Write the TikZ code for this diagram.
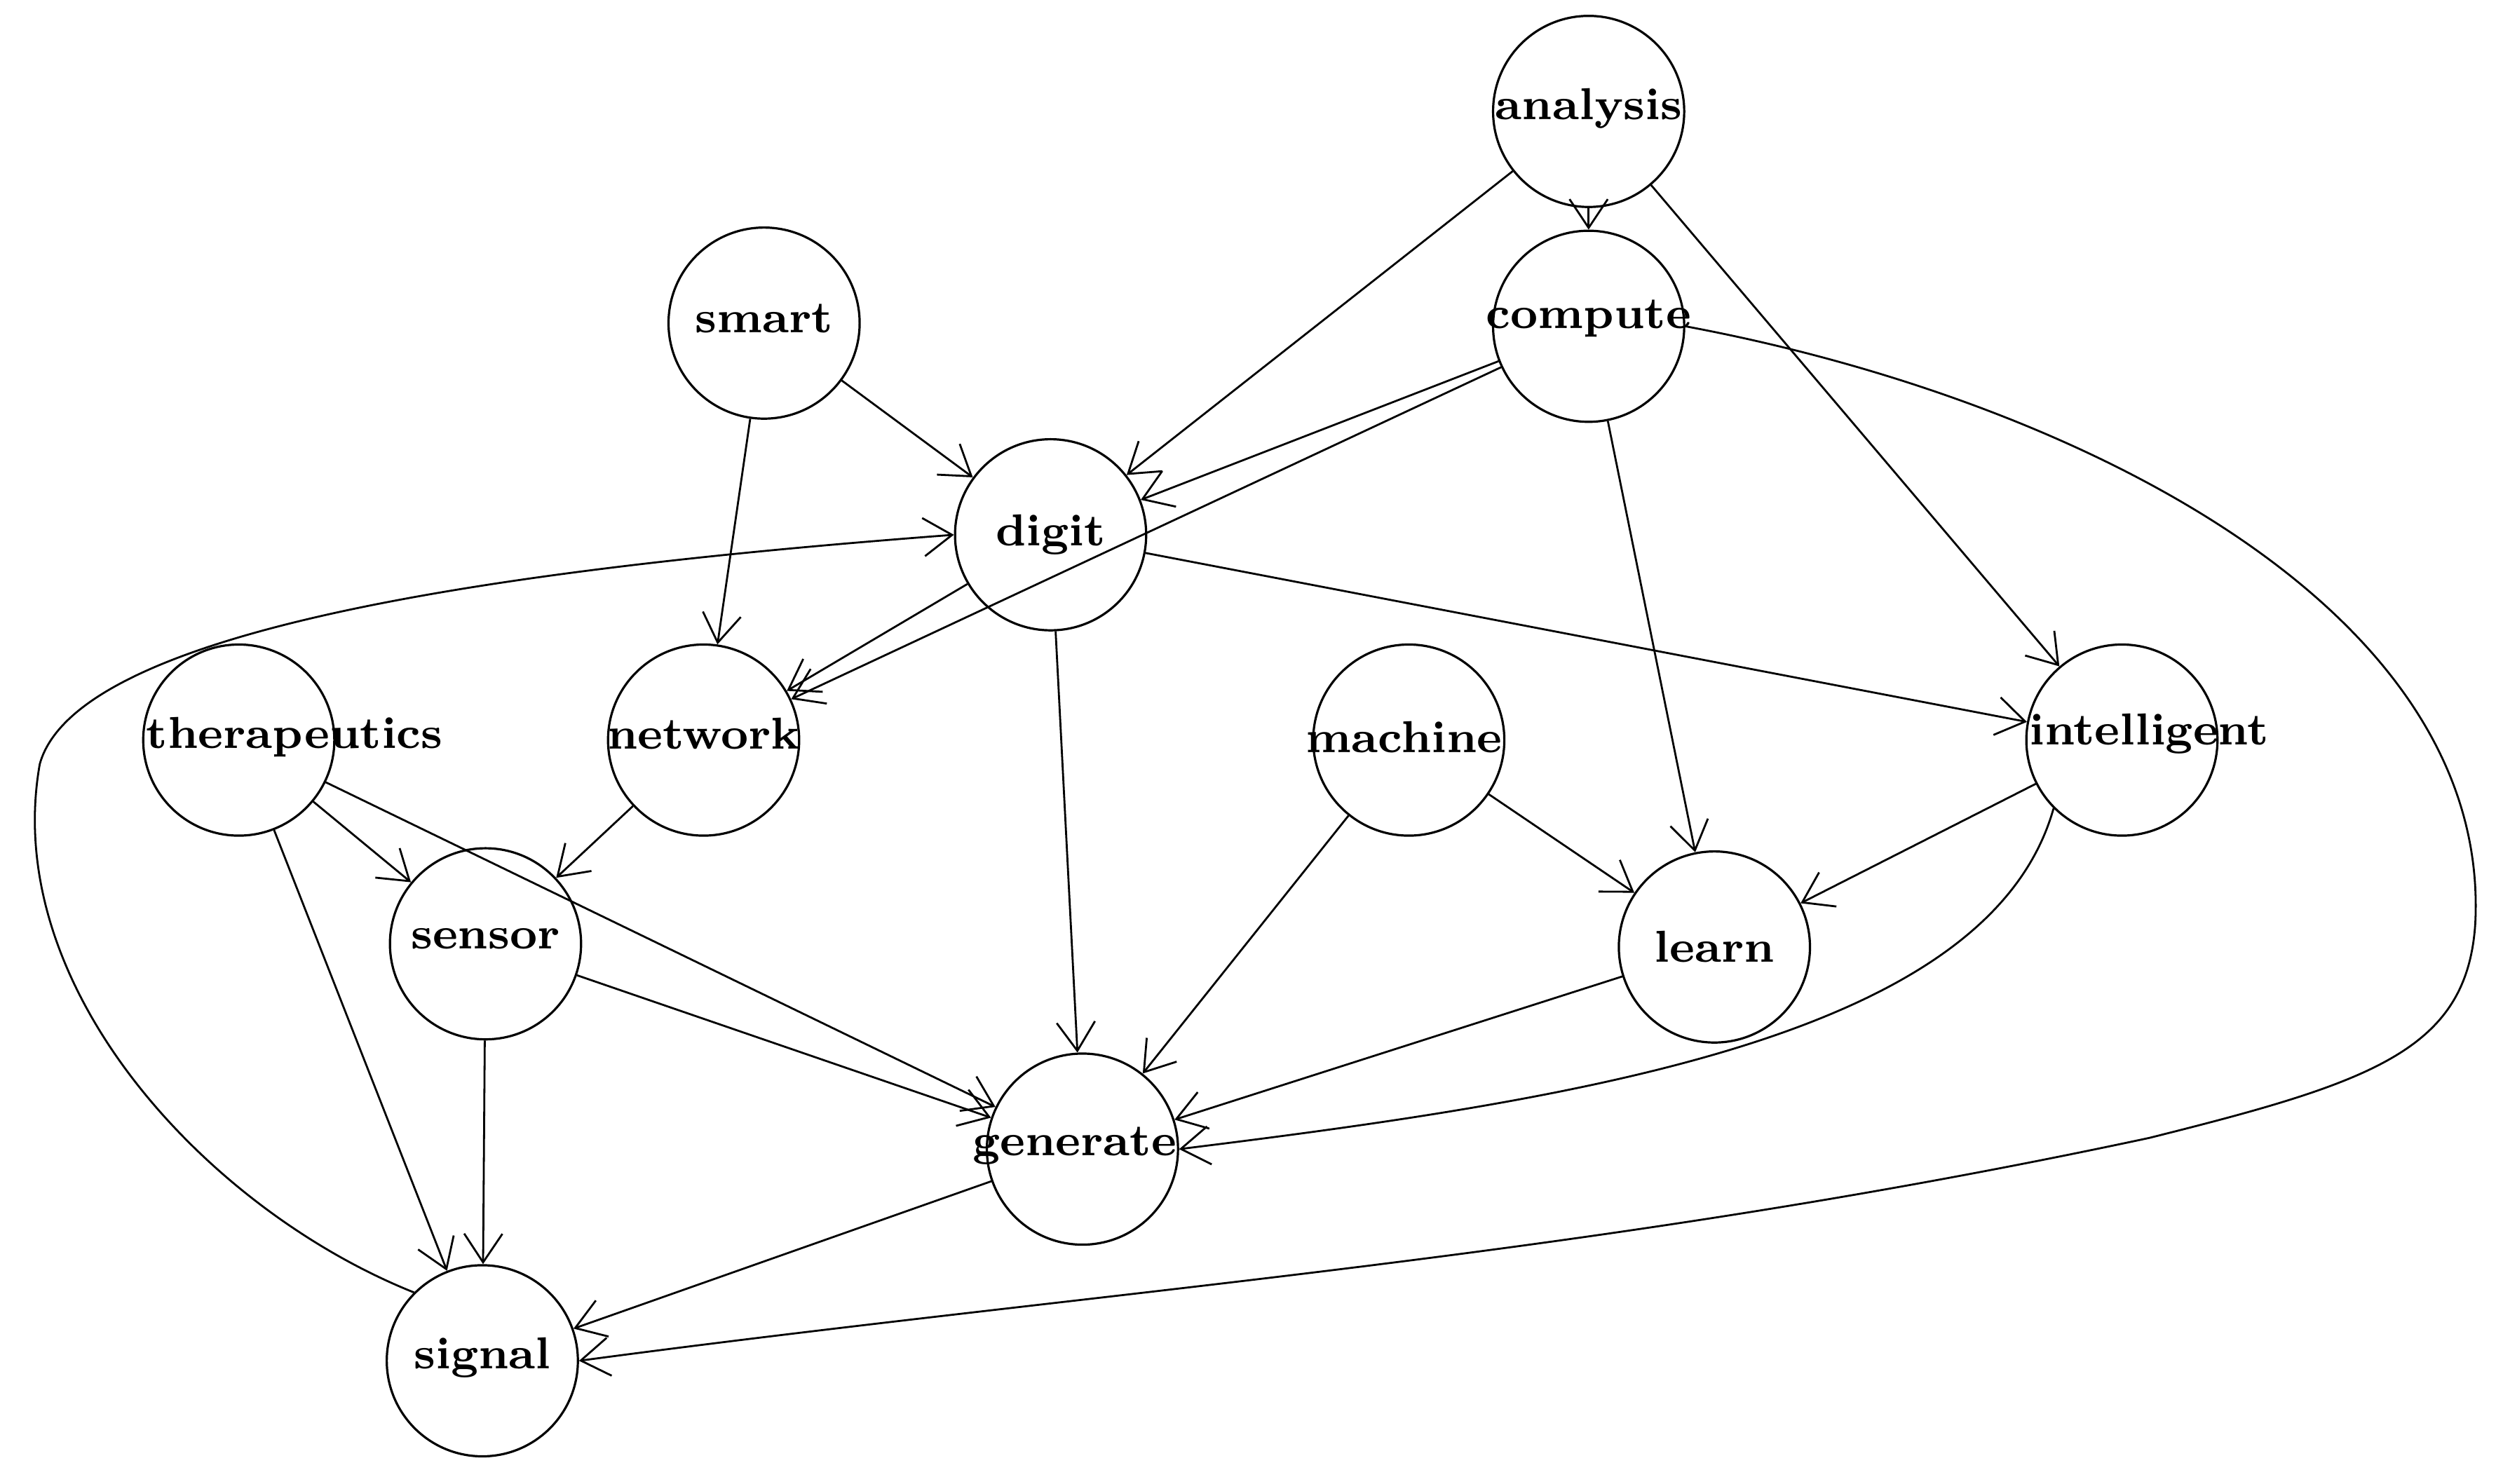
\documentclass[tikz,border=0pt]{standalone}
\usetikzlibrary{arrows.meta}
\begin{document}
\begin{tikzpicture}[x=0.01cm,y=-0.01cm,
  c/.style={circle,draw,line width=0.4pt,minimum size=1.2cm,inner sep=0pt},
  lab/.style={font=\fontsize{8}{9}\selectfont\bfseries},
  arr/.style={-{Straight Barb[length=1.8mm,width=2.4mm]},line width=0.35pt}]
\useasboundingbox (0,0) rectangle (1568,932);
\node[c] (analysis) at (998,70) {};
\node[c] (compute) at (998,205) {};
\node[c] (smart) at (480,203) {};
\node[c] (digit) at (660,336) {};
\node[c] (therapeutics) at (150,465) {};
\node[c] (network) at (442,465) {};
\node[c] (machine) at (885,465) {};
\node[c] (intelligent) at (1333,465) {};
\node[c] (sensor) at (305,593) {};
\node[c] (learn) at (1077,595) {};
\node[c] (generate) at (680,722) {};
\node[c] (signal) at (303,855) {};
\node[lab] (l1) at (998,68) {analysis};
\node[lab] (l2) at (998,200) {compute};
\node[lab] (l3) at (480,200) {smart};
\node[lab] (l4) at (660,336) {digit};
\node[lab] (l5) at (185,463) {therapeutics};
\node[lab] (l6) at (442,461) {network};
\node[lab] (l7) at (882,463) {machine};
\node[lab] (l8) at (1350,461) {intelligent};
\node[lab] (l9) at (305,590) {sensor};
\node[lab] (l10) at (1077,595) {learn};
\node[lab] (l11) at (675,720) {generate};
\node[lab] (l12) at (303,853) {signal};
\draw[arr] (analysis) -- (compute);
\draw[arr] (analysis) -- (digit);
\draw[arr] (analysis) -- (intelligent);
\draw[arr] (compute) -- (digit);
\draw[arr] (compute) -- (network);
\draw[arr] (compute) -- (learn);
\draw[arr] (compute.east) .. controls (1300,250) and (1565,380) .. (1555,580)
  .. controls (1550,660) and (1490,680) .. (1350,715) .. controls (1000,790) and (700,810) .. (signal.east);
\draw[arr] (smart) -- (digit);
\draw[arr] (smart) -- (network);
\draw[arr] (digit) -- (network);
\draw[arr] (digit) -- (generate);
\draw[arr] (digit) -- (intelligent);
\draw[arr] (signal.north west) .. controls (130,760) and (0,620) .. (25,480)
  .. controls (50,390) and (350,355) .. (digit.west);
\draw[arr] (therapeutics) -- (sensor);
\draw[arr] (therapeutics) -- (generate);
\draw[arr] (therapeutics) -- (signal);
\draw[arr] (network) -- (sensor);
\draw[arr] (machine) -- (learn);
\draw[arr] (machine) -- (generate);
\draw[arr] (intelligent) -- (learn);
\draw[arr] (intelligent.south west) .. controls (1250,650) and (1000,690) .. (generate.east);
\draw[arr] (sensor) -- (generate);
\draw[arr] (sensor) -- (signal);
\draw[arr] (learn) -- (generate);
\draw[arr] (generate) -- (signal);
\end{tikzpicture}
\end{document}
